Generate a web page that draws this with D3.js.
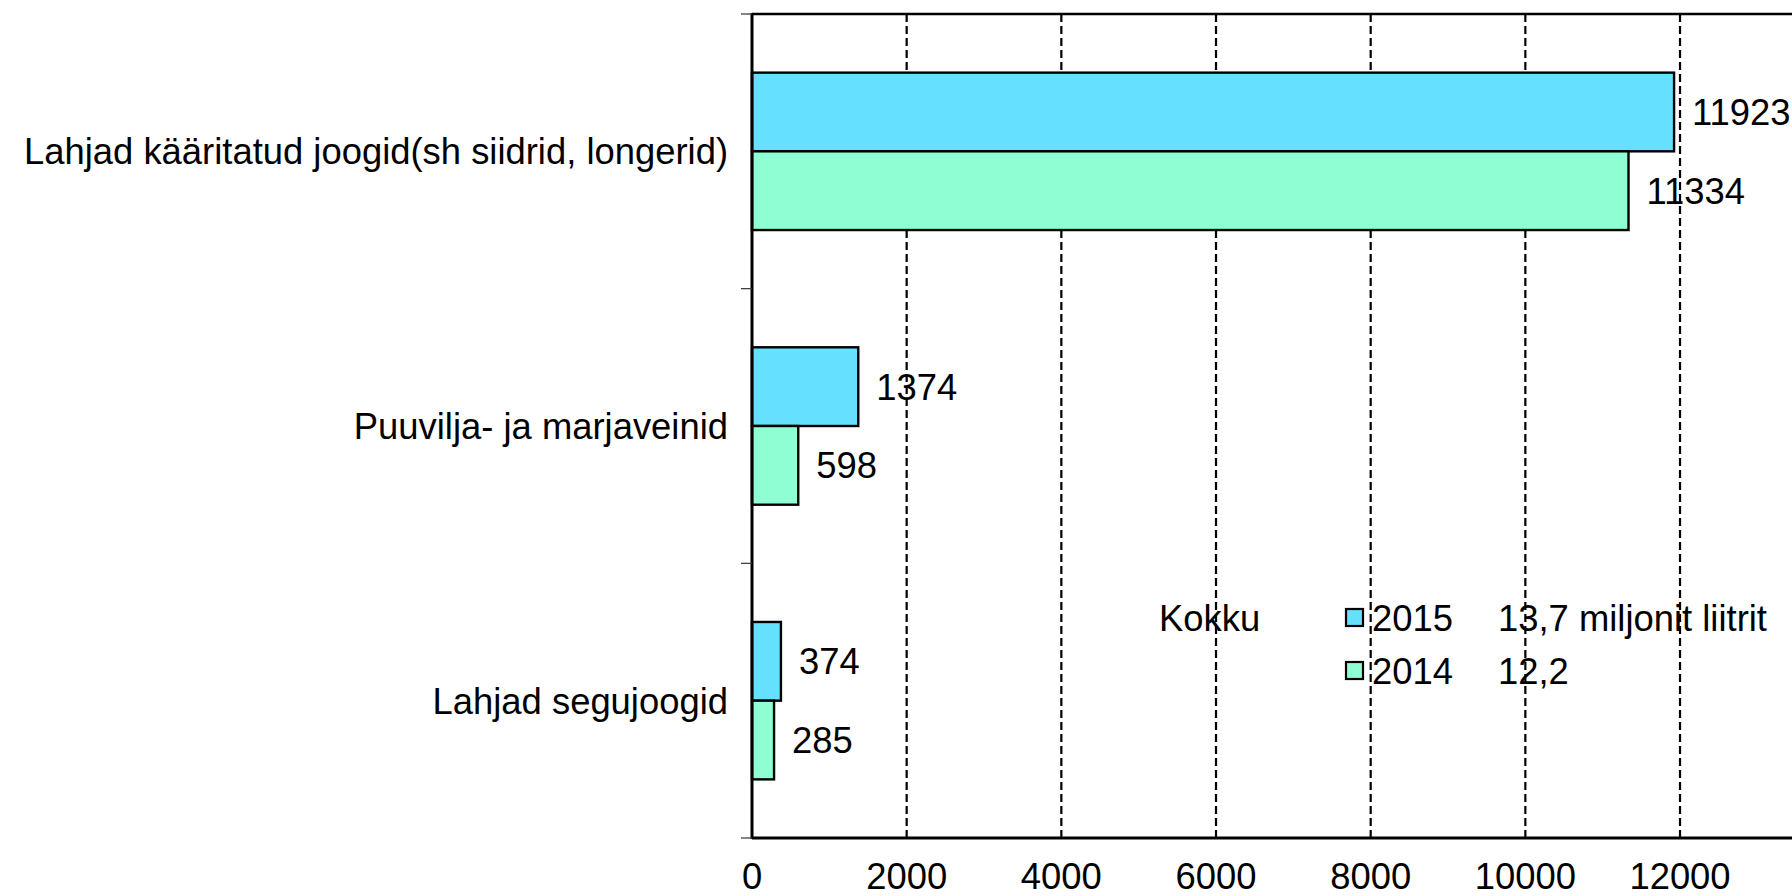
<!DOCTYPE html>
<html>
<head>
<meta charset="utf-8">
<script src="https://cdn.jsdelivr.net/npm/d3@7"></script>
<style>
  html, body { margin: 0; padding: 0; background: #fff; }
  svg { display: block; font-family: "Liberation Sans", Arial, sans-serif; }
</style>
</head>
<body>
<svg id="chart" width="1792" height="896"></svg>
<script>
const categories = ["Lahjad kääritatud joogid(sh siidrid, longerid)", "Puuvilja- ja marjaveinid", "Lahjad segujoogid"];
const series = ["2015", "2014"];
const values2015 = [11923, 1374, 374];
const values2014 = [11334, 598, 285];
const xTicks = [0, 2000, 4000, 6000, 8000, 10000, 12000, 14000];
const xTickLabels = ["0", "2000", "4000", "6000", "8000", "10000", "12000"];
const legendTitle = "Kokku";
const legendTotals = ["13,7 miljonit liitrit", "12,2"];
const colors = ["#66E0FF", "#8FFFD3"];

(function () {
const svg = d3.select("#chart");
const pLeft = 752, pTop = 14, pBottom = 838;
const FS = 36.4;
const x = d3.scaleLinear().domain([0, 14000]).range([pLeft, pLeft + 7 * 154.67]);
const y = d3.scaleBand().domain(categories).range([pTop, pBottom]).padding(0);
const inner = d3.scaleBand().domain(series).range([0, y.bandwidth()]).paddingInner(0).paddingOuter(0.745);

const data = categories.map((c, i) => ({ cat: c, vals: [values2015[i], values2014[i]] }));

// gridlines
svg.append("g").selectAll("line").data(xTicks.filter(d => d > 0)).join("line")
  .attr("x1", d => x(d)).attr("x2", d => x(d))
  .attr("y1", pTop).attr("y2", pBottom)
  .attr("stroke", "#000").attr("stroke-width", 2.2).attr("stroke-dasharray", "8,4");

// top frame line
svg.append("line").attr("x1", pLeft).attr("x2", 1792).attr("y1", pTop).attr("y2", pTop)
  .attr("stroke", "#000").attr("stroke-width", 2.5);

// bars
const groups = svg.append("g").selectAll("g").data(data).join("g")
  .attr("transform", d => `translate(0,${y(d.cat)})`);
groups.selectAll("rect").data(d => d.vals.map((v, j) => ({ s: series[j], v, j }))).join("rect")
  .attr("x", x(0))
  .attr("y", d => inner(d.s))
  .attr("width", d => x(d.v) - x(0))
  .attr("height", inner.bandwidth())
  .attr("fill", d => colors[d.j])
  .attr("stroke", "#000").attr("stroke-width", 2.4);
groups.selectAll("text").data(d => d.vals.map((v, j) => ({ s: series[j], v, j }))).join("text")
  .attr("x", d => x(d.v) + 18)
  .attr("y", d => inner(d.s) + inner.bandwidth() / 2)
  .attr("dy", "0.36em")
  .attr("font-size", FS)
  .text(d => d.v);

// y axis
const yAxis = svg.append("g");
yAxis.append("line").attr("x1", pLeft).attr("x2", pLeft).attr("y1", pTop - 1).attr("y2", pBottom + 1)
  .attr("stroke", "#000").attr("stroke-width", 3);
const yTickPos = [pTop, ...categories.map(c => y(c) + y.bandwidth())];
yAxis.selectAll("line.tick").data(yTickPos).join("line").attr("class", "tick")
  .attr("x1", pLeft - 11).attr("x2", pLeft).attr("y1", d => d).attr("y2", d => d)
  .attr("stroke", "#333").attr("stroke-width", 1.2);
yAxis.selectAll("text").data(categories).join("text")
  .attr("x", pLeft - 24)
  .attr("y", d => y(d) + y.bandwidth() / 2)
  .attr("dy", "0.36em")
  .attr("text-anchor", "end")
  .attr("font-size", FS)
  .text(d => d);

// x axis
const xAxis = svg.append("g");
xAxis.append("line").attr("x1", pLeft).attr("x2", 1792).attr("y1", pBottom).attr("y2", pBottom)
  .attr("stroke", "#000").attr("stroke-width", 3);
xAxis.selectAll("text").data(xTickLabels).join("text")
  .attr("x", (d, i) => x(xTicks[i])).attr("y", 889)
  .attr("text-anchor", "middle")
  .attr("font-size", FS)
  .text(d => d);

// legend
const leg = svg.append("g");
leg.append("text").attr("x", 1159).attr("y", 631).attr("font-size", FS).text(legendTitle);
const rows = leg.selectAll("g").data(series).join("g")
  .attr("transform", (d, i) => `translate(0,${631 + i * 53})`);
rows.append("rect").attr("x", 1346).attr("y", -22).attr("width", 17).attr("height", 17)
  .attr("fill", (d, i) => colors[i]).attr("stroke", "#000").attr("stroke-width", 2.2);
rows.append("text").attr("x", 1372).attr("y", 0).attr("font-size", FS).text(d => d);
rows.append("text").attr("x", 1498).attr("y", 0).attr("font-size", FS).text((d, i) => legendTotals[i]);
})();
</script>
</body>
</html>
